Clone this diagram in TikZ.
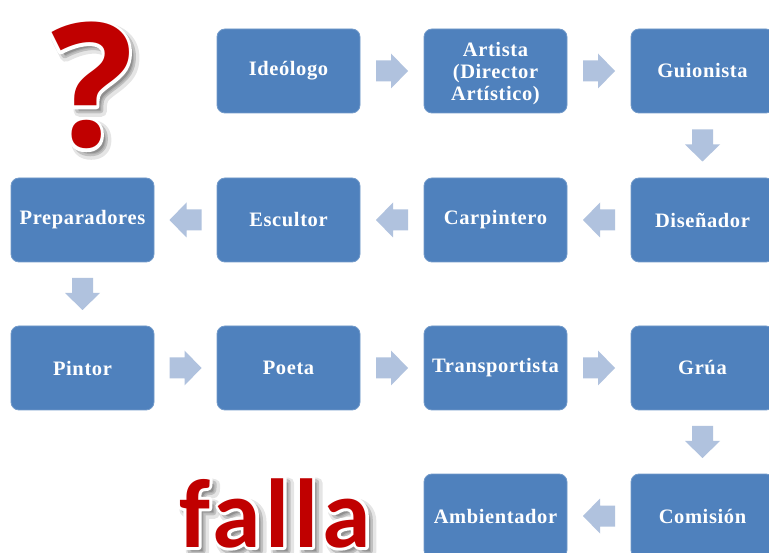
\documentclass[tikz,border=0pt]{standalone}
\usepackage{fontspec}
\setmainfont{Liberation Serif}
\newfontfamily\boxfont[LetterSpace=3]{Liberation Serif}
\newfontfamily\wordfont[LetterSpace=4.5]{Carlito}
\newfontfamily\markfont{Open Sans}
\usetikzlibrary{calc}

\definecolor{boxblue}{HTML}{4F81BD}
\definecolor{arrowblue}{HTML}{B0C2DE}
\definecolor{signred}{HTML}{C00000}

% PDF text rendering mode (0 fill, 1 stroke, 2 fill+stroke) and stroke width
\newcommand\textpaint[2]{\special{pdf:literal direct #1 Tr #2 w 1 j 1 J}}

\tikzset{
  stage/.style={rectangle, rounded corners=8pt, fill=boxblue,
    draw=boxblue!80!white, line width=0.8pt,
    minimum width=143pt, minimum height=84pt, inner sep=2pt,
    text=white, align=center, text width=139pt,
    font=\boxfont\bfseries\fontsize{20.5}{22}\selectfont},
  stagetext/.style={inner sep=0pt, text=white, align=center,
    font=\boxfont\bfseries\fontsize{20.5}{22}\selectfont},
  blockarrow/.pic={
    \fill[arrowblue] (-16,-10.5) -- (-1,-10.5) -- (-1,-17.5) -- (16,0)
      -- (-1,17.5) -- (-1,10.5) -- (-16,10.5) -- cycle;
  },
  signtext/.style={anchor=base west, inner sep=0pt, outer sep=0pt},
}

% red word with a white rim and a soft grey drop shadow
% #1 name, #2 x, #3 y (baseline), #4 font, #5 text
\newcommand\signword[5]{%
  \node[signtext, text=black, opacity=0.10, font=#4]
    (#1shadowwide) at (#2+5, #3+5) {\textpaint{2}{11}#5};
  \node[signtext, text=black, opacity=0.16, font=#4]
    (#1shadow) at (#2+4, #3+4) {\textpaint{2}{6}#5};
  \node[signtext, text=white, font=#4]
    (#1rim) at (#2,#3) {\textpaint{2}{6}#5};
  \node[signtext, text=signred, font=#4]
    (#1) at (#2,#3) {\textpaint{0}{1}#5};
}

\begin{document}
\begin{tikzpicture}[x=1pt, y=-1pt]
  \useasboundingbox (0,0) rectangle (769,553);
  \clip (0,0) rectangle (769,553);
  \fill[white] (0,0) rectangle (769,553);

  % first row
  \node[stage] (ideologo)  at (288.5,71) {Ideólogo};
  \node[stage] (artista)   at (495.5,71) {};
  \node[stagetext] (artistalabel) at ([yshift=-3pt]artista.center)
    {Artista\\(Director\\Artístico)};
  \node[stage] (guionista) at (702.5,71) {Guionista};

  % second row
  \node[stage] (preparadores) at (82.5,220)  {Preparadores};
  \node[stage] (escultor)     at (288.5,220) {Escultor};
  \node[stage] (carpintero)   at (495.5,220) {Carpintero};
  \node[stage] (disenador)    at (702.5,220) {Diseñador};

  % third row
  \node[stage] (pintor)        at (82.5,368)  {Pintor};
  \node[stage] (poeta)         at (288.5,368) {Poeta};
  \node[stage] (transportista) at (495.5,368) {Transportista};
  \node[stage] (grua)          at (702.5,368) {Grúa};

  % fourth row
  \node[stage] (ambientador) at (495.5,516) {Ambientador};
  \node[stage] (comision)    at (702.5,516) {Comisión};

  % block arrows along the sequence
  \pic (f1) at ($(ideologo.east)!0.5!(artista.west)$) {blockarrow};
  \pic (f2) at ($(artista.east)!0.5!(guionista.west)$) {blockarrow};
  \pic[rotate=-90] (f3) at ($(guionista.south)!0.5!(disenador.north)$) {blockarrow};
  \pic[rotate=180] (f4) at ($(disenador.west)!0.5!(carpintero.east)$) {blockarrow};
  \pic[rotate=180] (f5) at ($(carpintero.west)!0.5!(escultor.east)$) {blockarrow};
  \pic[rotate=180] (f6) at ($(escultor.west)!0.5!(preparadores.east)$) {blockarrow};
  \pic[rotate=-90] (f7) at ($(preparadores.south)!0.5!(pintor.north)$) {blockarrow};
  \pic (f8) at ($(pintor.east)!0.5!(poeta.west)$) {blockarrow};
  \pic (f9) at ($(poeta.east)!0.5!(transportista.west)$) {blockarrow};
  \pic (f10) at ($(transportista.east)!0.5!(grua.west)$) {blockarrow};
  \pic[rotate=-90] (f11) at ($(grua.south)!0.5!(comision.north)$) {blockarrow};
  \pic[rotate=180] (f12) at ($(comision.west)!0.5!(ambientador.east)$) {blockarrow};

  % big red signs
  \signword{question}{51}{147}{\markfont\bfseries\fontsize{172}{172}\selectfont}{?}
  \signword{falla}{179}{547}{\wordfont\bfseries\fontsize{98}{98}\selectfont}{falla}
\end{tikzpicture}
\end{document}
